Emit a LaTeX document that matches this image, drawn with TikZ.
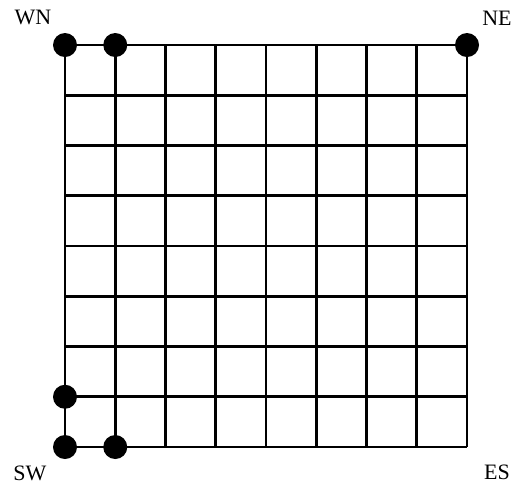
\documentclass[tikz,border=0pt]{standalone}
\usepackage{fontspec}
\setmainfont{Liberation Serif}
\usetikzlibrary{positioning}

\tikzset{
 gridline/.style={line width=2.8pt,black},
 dot/.style={circle,fill=black,inner sep=0pt,minimum size=24pt},
 corner/.style={font=\fontsize{22}{24}\selectfont}
}

\begin{document}
\begin{tikzpicture}[x=50.25pt,y=50.25pt]
\useasboundingbox (-1.2935,-0.776) rectangle (8.955,8.896);
\foreach \k in {0,...,8}{
 \draw[gridline] (\k,0)--(\k,8);
 \draw[gridline] (0,\k)--(8,\k);
}
\node[dot] (wn) at (0,8) {};
\node[dot] (wnb) at (1,8) {};
\node[dot] (ne) at (8,8) {};
\node[dot] (swa) at (0,1) {};
\node[dot] (sw) at (0,0) {};
\node[dot] (swb) at (1,0) {};
\node[corner] (lwn) at (-0.637,8.557) {WN};
\node[corner] (lne) at (8.597,8.537) {NE};
\node[corner] (lsw) at (-0.697,-0.517) {SW};
\node[corner] (les) at (8.597,-0.497) {ES};
\end{tikzpicture}
\end{document}
